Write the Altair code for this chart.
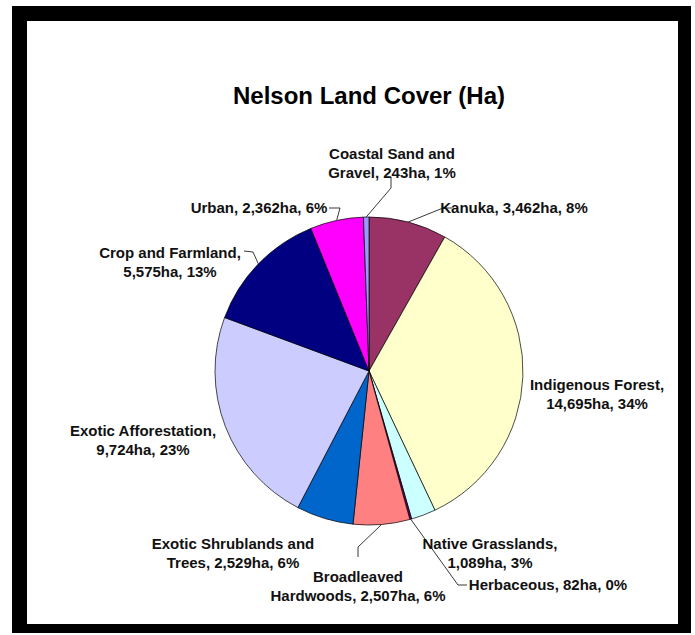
import math
import altair as alt
import pandas as pd

# ---- data (clockwise from 12 o'clock) ----
categories = ["Kanuka", "Indigenous Forest", "Native Grasslands", "Herbaceous",
              "Broadleaved Hardwoods", "Exotic Shrublands and Trees",
              "Exotic Afforestation", "Crop and Farmland", "Urban",
              "Coastal Sand and Gravel"]
hectares = [3462, 14695, 1089, 82, 2507, 2529, 9724, 5575, 2362, 243]
labels = ["Kanuka, 3,462ha, 8%",
          "Indigenous Forest,\n14,695ha, 34%",
          "Native Grasslands,\n1,089ha, 3%",
          "Herbaceous, 82ha, 0%",
          "Broadleaved\nHardwoods, 2,507ha, 6%",
          "Exotic Shrublands and\nTrees, 2,529ha, 6%",
          "Exotic Afforestation,\n9,724ha, 23%",
          "Crop and Farmland,\n5,575ha, 13%",
          "Urban, 2,362ha, 6%",
          "Coastal Sand and\nGravel, 243ha, 1%"]
colors = ["#993366", "#FFFFCC", "#CCFFFF", "#660066", "#FF8080", "#0066CC",
          "#CCCCFF", "#000080", "#FF00FF", "#9999FF"]
title_text = "Nelson Land Cover (Ha)"

# ---- layout (pixels) ----
W, H = 695, 635
CX, CY, R = 369, 371, 154
label_pos = {
    "Kanuka": (514, 208),
    "Indigenous Forest": (597, 385),
    "Native Grasslands": (490, 544),
    "Herbaceous": (548, 585),
    "Broadleaved Hardwoods": (358, 577),
    "Exotic Shrublands and Trees": (233, 544),
    "Exotic Afforestation": (143, 431),
    "Crop and Farmland": (170, 253),
    "Urban": (259, 208),
    "Coastal Sand and Gravel": (392, 154),
}
leader_bends = {
    "Coastal Sand and Gravel": [(391, 177), (391, 188)],
    "Kanuka": [(452, 208), (443, 208)],
    "Urban": [(329, 208), (340, 208)],
    "Crop and Farmland": [(244, 251), (253, 252)],
    "Broadleaved Hardwoods": [(358, 557), (358, 547)],
    "Herbaceous": [(467, 585), (458, 585)],
}

pie_df = pd.DataFrame({"cat": categories, "ha": hectares,
                       "idx": list(range(len(categories)))})

total = sum(hectares)
rows = []
cum = 0
for c, v in zip(categories, hectares):
    mid = (cum + v / 2) / total * 2 * math.pi
    cum += v
    if c in leader_bends:
        pts = leader_bends[c] + [(CX + R * math.sin(mid), CY - R * math.cos(mid))]
        for i, (px, py) in enumerate(pts):
            rows.append({"name": c, "seq": i, "px": px, "py": py})
line_df = pd.DataFrame(rows)

text_df = pd.DataFrame({
    "label": labels,
    "tx": [label_pos[c][0] for c in categories],
    "ty": [label_pos[c][1] for c in categories],
})

one = pd.DataFrame({"a": [0]})

frame = [
    alt.Chart(one).mark_rect(color="black").encode(
        x=alt.value(12), x2=alt.value(27), y=alt.value(6), y2=alt.value(633)),
    alt.Chart(one).mark_rect(color="black").encode(
        x=alt.value(678), x2=alt.value(691), y=alt.value(6), y2=alt.value(633)),
    alt.Chart(one).mark_rect(color="black").encode(
        x=alt.value(12), x2=alt.value(691), y=alt.value(6), y2=alt.value(21)),
    alt.Chart(one).mark_rect(color="black").encode(
        x=alt.value(12), x2=alt.value(691), y=alt.value(624), y2=alt.value(633)),
]

pie = alt.Chart(pie_df).mark_arc(outerRadius=R, stroke="black", strokeWidth=0.7).encode(
    theta=alt.Theta("ha:Q", stack=True),
    order=alt.Order("idx:Q"),
    color=alt.Color("cat:N", scale=alt.Scale(domain=categories, range=colors), legend=None),
    x=alt.value(CX),
    y=alt.value(CY),
)

leaders = alt.Chart(line_df).mark_line(color="#222222", strokeWidth=0.9).encode(
    x=alt.X("px:Q", scale=None),
    y=alt.Y("py:Q", scale=None),
    detail="name:N",
    order="seq:Q",
)

texts = alt.Chart(text_df).mark_text(
    font="Liberation Sans", fontWeight="bold", fontSize=15, lineHeight=19,
    align="center", baseline="middle", color="#111111", lineBreak="\n",
).encode(
    x=alt.X("tx:Q", scale=None),
    y=alt.Y("ty:Q", scale=None),
    text="label:N",
)

title = alt.Chart(pd.DataFrame({"t": [title_text]})).mark_text(
    font="Liberation Sans", fontWeight="bold", fontSize=24,
    align="center", baseline="middle", color="black",
).encode(x=alt.value(369), y=alt.value(97), text="t:N")

chart = alt.layer(*frame, pie, leaders, texts, title).properties(
    width=W, height=H,
    autosize=alt.AutoSizeParams(type="none"),
    padding=0,
).configure_view(stroke=None)

chart.save("out.html", embed_options={"renderer": "svg", "actions": False})
